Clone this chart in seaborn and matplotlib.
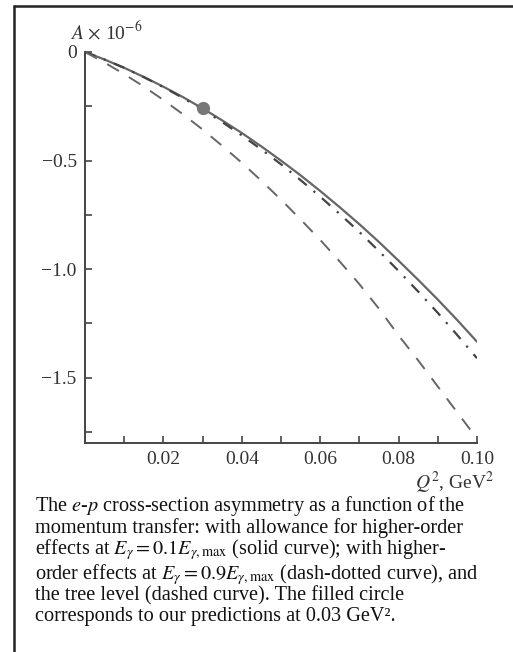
import numpy as np
import pandas as pd
import matplotlib.pyplot as plt
import matplotlib.lines as mlines
import seaborn as sns

# values
q2 = [0.0, 0.005, 0.01, 0.015, 0.02, 0.025, 0.03, 0.035, 0.04, 0.045, 0.05,
      0.055, 0.06, 0.065, 0.07, 0.075, 0.08, 0.085, 0.09, 0.095, 0.10]
a_solid = [0.0, -0.035, -0.073, -0.115, -0.160, -0.208, -0.260, -0.315, -0.373,
           -0.435, -0.500, -0.568, -0.640, -0.715, -0.793, -0.875, -0.961,
           -1.049, -1.140, -1.235, -1.334]
a_dashdot = [0.0, -0.035, -0.073, -0.116, -0.162, -0.212, -0.265, -0.323, -0.384,
             -0.449, -0.517, -0.590, -0.666, -0.746, -0.829, -0.917, -1.008,
             -1.103, -1.201, -1.304, -1.410]
a_dashed = [0.0, -0.049, -0.102, -0.159, -0.221, -0.287, -0.357, -0.432, -0.510,
            -0.593, -0.680, -0.771, -0.865, -0.965, -1.069, -1.182, -1.305,
            -1.420, -1.540, -1.660, -1.780]
point_q2 = [0.03]
point_a = [-0.26]

xticks = [0.02, 0.04, 0.06, 0.08, 0.10]
xtick_labels = ["0.02", "0.04", "0.06", "0.08", "0.10"]
yticks = [0, -0.5, -1.0, -1.5]
ytick_labels = ["0", "\u22120.5", "\u22121.0", "\u22121.5"]

caption = [
    r"The $e$-$p$ cross-section asymmetry as a function of the",
    r"momentum transfer: with allowance for higher-order",
    r"effects at $E_\gamma = 0.1E_{\gamma,\mathrm{max}}$ (solid curve); with higher-",
    r"order effects at $E_\gamma = 0.9E_{\gamma,\mathrm{max}}$ (dash-dotted curve), and",
    r"the tree level (dashed curve). The filled circle",
    "corresponds to our predictions at 0.03 GeV\u00b2.",
]
caption_base = [511, 533, 554, 579, 600, 621]

df = pd.DataFrame({"q2": q2, "solid": a_solid, "dashdot": a_dashdot, "dashed": a_dashed})

sns.set_style("white")
plt.rcParams["font.family"] = ["Liberation Serif", "DejaVu Serif"]
plt.rcParams["mathtext.fontset"] = "stix"

fig = plt.figure(figsize=(5.13, 6.52), dpi=100)
ax = fig.add_axes([0.1657, 0.3206, 0.7641, 0.5997])

line_col = "#666666"
sns.lineplot(data=df, x="q2", y="solid", ax=ax, color=line_col, lw=1.6)
sns.lineplot(data=df, x="q2", y="dashdot", ax=ax, color="#444444", lw=1.6,
             linestyle=(0, (5, 4, 1, 4)))
sns.lineplot(data=df, x="q2", y="dashed", ax=ax, color=line_col, lw=1.4,
             linestyle=(0, (7, 6)))
ax.plot(point_q2, point_a, "o", color="#777777", ms=8.5, zorder=5)

ax.set_xlim(0, 0.10)
ax.set_ylim(-1.8, 0)
ax.set_xticks(xticks)
ax.set_xticklabels(xtick_labels)
ax.set_yticks(yticks)
ax.set_yticklabels(ytick_labels)
ax.set_xticks([0.01, 0.03, 0.05, 0.07, 0.09], minor=True)
ax.set_yticks([-0.25, -0.75, -1.25, -1.75], minor=True)
ax.tick_params(which="both", direction="in", length=5, width=1.2, color="#444444",
               labelsize=14, labelcolor="#333333", pad=6)
ax.tick_params(axis="y", which="both", left=True)
ax.tick_params(axis="x", which="both", bottom=True)
ax.set_xlabel("")
ax.set_ylabel("")
for s in ["top", "right"]:
    ax.spines[s].set_visible(False)
for s in ["left", "bottom"]:
    ax.spines[s].set_color("#444444")
    ax.spines[s].set_linewidth(1.4)

fig.text(70 / 513, 1 - 32 / 652, r"$A$ $\times$ 10$^{-6}$", fontsize=14, color="#333333",
         va="center", ha="left")
fig.text(494 / 513, 1 - 483 / 652, r"$Q^2$, GeV$^2$", fontsize=14, color="#333333",
         va="center", ha="right")

for line, y in zip(caption, caption_base):
    fig.text(35 / 513, 1 - y / 652, line, fontsize=14.6,
             color="#111111", va="baseline", ha="left")

# frame of the figure box
fig.add_artist(mlines.Line2D([14 / 513, 1], [1 - 6 / 652, 1 - 6 / 652],
                             transform=fig.transFigure, color="#222222", lw=1.8))
fig.add_artist(mlines.Line2D([14 / 513, 14 / 513], [1 - 6 / 652, 0],
                             transform=fig.transFigure, color="#222222", lw=1.8))

fig.savefig("out.png", dpi=100)
